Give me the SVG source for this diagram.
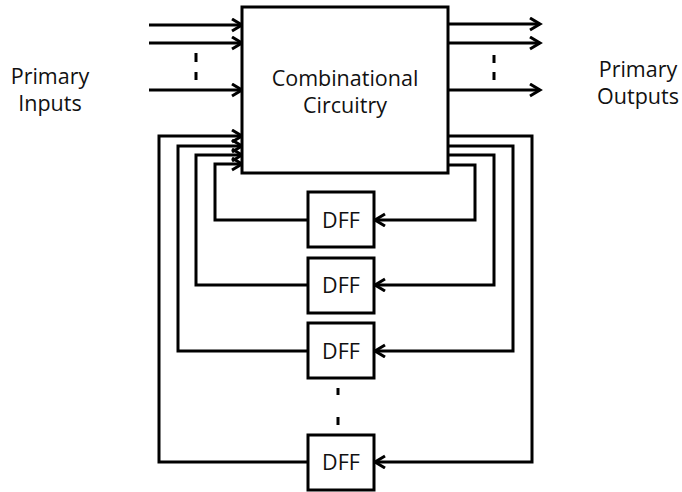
<svg xmlns="http://www.w3.org/2000/svg" width="682" height="492" viewBox="0 0 682 492">
<style>
.box{fill:#fff;stroke:#000;stroke-width:3}
.w{fill:none;stroke:#000;stroke-width:3;stroke-linejoin:miter}
.a{marker-end:url(#arr)}
.d{stroke:#000;stroke-width:3;fill:none}
text{font-family:"Open Sans","Liberation Sans",sans-serif;fill:#111;text-anchor:middle}
.lbl{font-size:21.5px}
.dff{font-size:21.5px}
</style>
<defs>
<marker id="arr" markerUnits="userSpaceOnUse" markerWidth="14" markerHeight="16" refX="11" refY="7" orient="auto">
<path d="M1,1 L11,7 L1,13" fill="none" stroke="#000" stroke-width="3"/>
</marker>
</defs>
<g id="labels">
<text class="lbl" x="50" y="84">Primary</text>
<text class="lbl" x="50" y="111">Inputs</text>
<text class="lbl" x="638" y="77">Primary</text>
<text class="lbl" x="638" y="104">Outputs</text>
</g>
<g id="connectors">
<path class="w a" d="M149,25 H242"/>
<path class="w a" d="M149,43 H242"/>
<path class="w a" d="M149,90 H242"/>
<path class="w a" d="M448,24 H540"/>
<path class="w a" d="M448,43 H540"/>
<path class="w a" d="M448,90 H540"/>
<path class="w a" d="M448,136 H532 V462 H375"/>
<path class="w a" d="M308,462 H159 V136 H242"/>
<path class="w a" d="M448,146 H513 V351 H375"/>
<path class="w a" d="M308,351 H178 V146 H242"/>
<path class="w a" d="M448,155 H494 V285 H375"/>
<path class="w a" d="M308,285 H196 V155 H242"/>
<path class="w a" d="M448,165 H475 V220 H375"/>
<path class="w a" d="M308,220 H215 V164 H242"/>
<path class="d" d="M196,53 V62 M196,72 V80 M494,55 V63 M494,72 V80 M338,388 V395 M338,417 V425"/>
</g>
<g id="comb">
<rect class="box" x="242" y="7" width="206" height="166"/>
<text class="lbl" x="345" y="86">Combinational</text>
<text class="lbl" x="345" y="113">Circuitry</text>
</g>
<g id="dff1">
<rect class="box" x="308" y="192" width="66" height="55"/>
<text class="dff" x="341" y="228">DFF</text>
</g>
<g id="dff2">
<rect class="box" x="308" y="258" width="66" height="55"/>
<text class="dff" x="341" y="293">DFF</text>
</g>
<g id="dff3">
<rect class="box" x="308" y="323" width="66" height="55"/>
<text class="dff" x="341" y="359">DFF</text>
</g>
<g id="dff4">
<rect class="box" x="308" y="435" width="66" height="55"/>
<text class="dff" x="341" y="470">DFF</text>
</g>
</svg>
